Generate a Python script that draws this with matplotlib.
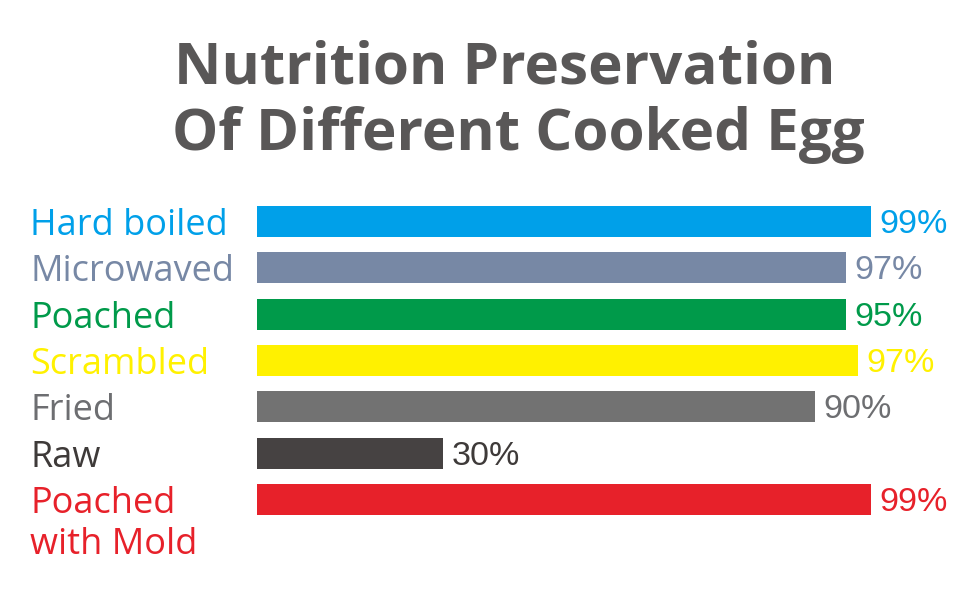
import matplotlib
matplotlib.use("Agg")
import matplotlib.pyplot as plt
import matplotlib.transforms as mtransforms

# data
methods = ["Hard boiled", "Microwaved", "Poached", "Scrambled", "Fried", "Raw", "Poached\nwith Mold"]
bar_lengths = [99, 95, 95, 97, 90, 30, 99]      # drawn lengths as they appear
value_labels = ["99%", "97%", "95%", "97%", "90%", "30%", "99%"]
bar_colors = ["#00a0e9", "#7788a5", "#009a4a", "#fff100", "#727272", "#464242", "#e7212a"]
text_colors = ["#00a0e9", "#7788a5", "#009a4a", "#fff100", "#6d6e71", "#3e3a39", "#e7212a"]

fig = plt.figure(figsize=(9.7, 6.0), dpi=100)
fig.patch.set_facecolor("white")

# axes: bars start at x=257px, 6.2 px per unit, rows 46.3 px apart
ax_left, ax_w = 257 / 970, 0.70
ax = fig.add_axes([ax_left, 1 - 522.6 / 600, ax_w, (522.6 - 198.4) / 600])
ax.set_xlim(0, ax_w * 970 / 6.2)
ax.set_ylim(len(methods) - 0.5, -0.5)
ax.axis("off")

ypos = list(range(len(methods)))
ax.barh(ypos, bar_lengths, height=0.67, color=bar_colors, left=0)

label_tr = mtransforms.blended_transform_factory(fig.transFigure, ax.transData)
for i, (name, col) in enumerate(zip(methods, text_colors)):
    for k, line in enumerate(name.split("\n")):
        ax.text(30 / 970, i + 0.29 + k * 41 / 46.3, line, transform=label_tr,
                ha="left", va="baseline", color=col,
                fontsize=26, family=["Open Sans", "DejaVu Sans"])

for i, (v, lab, col) in enumerate(zip(bar_lengths, value_labels, text_colors)):
    ax.annotate(lab, xy=(v, i + 0.25), xytext=(6, 0), textcoords="offset points",
                ha="left", va="baseline", color=col,
                fontsize=24.5, family=["Liberation Sans", "DejaVu Sans"])

title_kw = dict(ha="left", va="baseline", color="#595757", fontsize=42,
                fontweight="bold", family=["Open Sans", "DejaVu Sans"])
fig.text(174 / 970, 1 - 83 / 600, "Nutrition Preservation", **title_kw)
fig.text(172 / 970, 1 - 150 / 600, "Of Different Cooked Egg", **title_kw)

fig.savefig("out.png", dpi=100, facecolor="white")
